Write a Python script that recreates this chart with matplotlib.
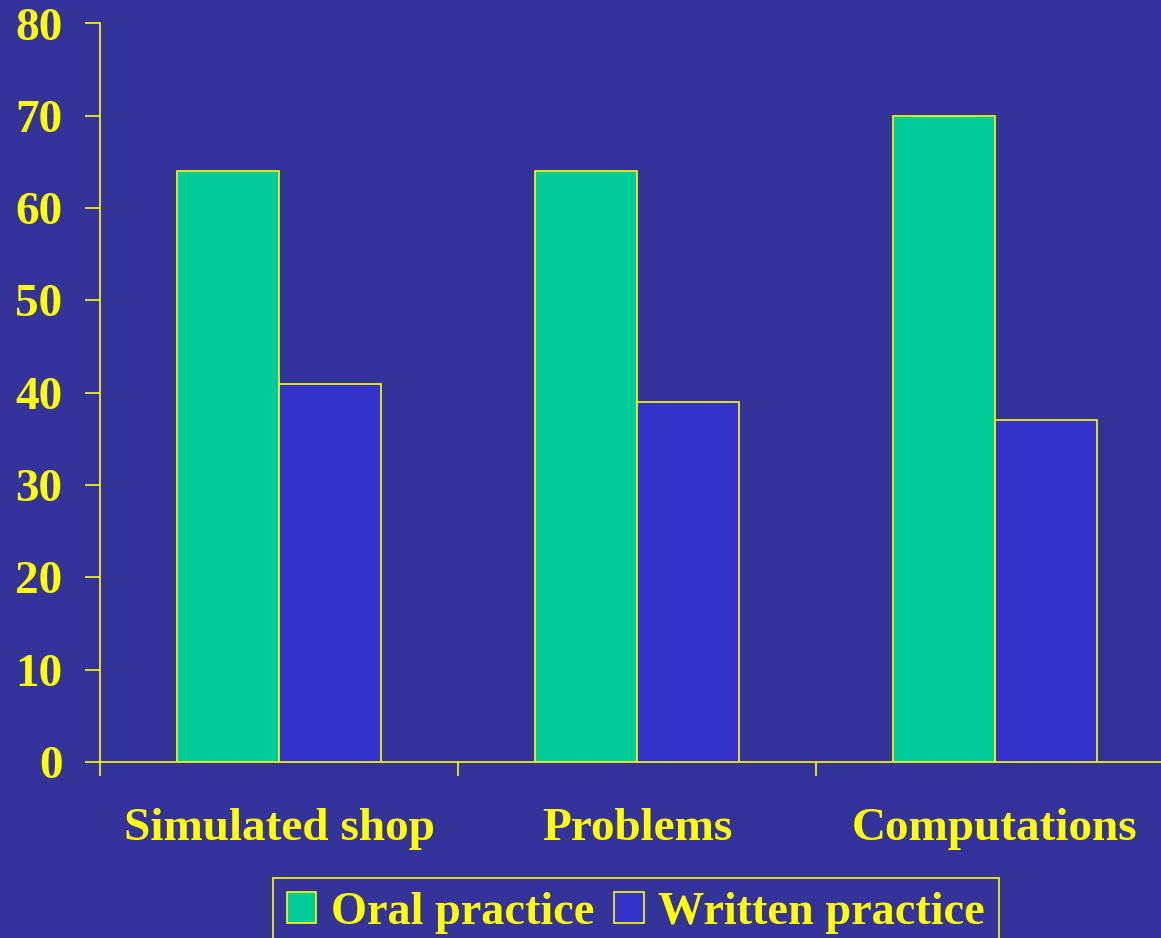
import matplotlib
matplotlib.use("Agg")
import matplotlib.pyplot as plt
import numpy as np

categories = ["Simulated shop", "Problems", "Computations"]
oral_practice = [64, 64, 70]
written_practice = [41, 39, 37]
series_names = ["Oral practice", "Written practice"]
y_ticks = [0, 10, 20, 30, 40, 50, 60, 70, 80]

BG = "#333399"
GREEN = "#00CC99"
BLUE = "#3333CC"
YELLOW = "#FFFF00"

plt.rcParams["font.family"] = ["Liberation Serif", "DejaVu Serif"]
plt.rcParams["font.weight"] = "bold"

FS = 34
W, H = 1161, 938
fig = plt.figure(figsize=(W / 100, H / 100), dpi=100, facecolor=BG)
ax = fig.add_axes([100 / W, 1 - 762 / H, 1074 / W, (762 - 23.5) / H])
ax.set_facecolor(BG)

x = np.arange(len(categories))
bw = 0.285
ax.bar(x - bw / 2, oral_practice, bw, color=GREEN, edgecolor=YELLOW,
       linewidth=1.2, label=series_names[0], zorder=3)
ax.bar(x + bw / 2, written_practice, bw, color=BLUE, edgecolor=YELLOW,
       linewidth=1.2, label=series_names[1], zorder=3)

ax.set_xlim(-0.5, len(categories) - 0.5)
ax.set_ylim(0, 80)

for side in ("top", "right"):
    ax.spines[side].set_visible(False)
for side in ("left", "bottom"):
    ax.spines[side].set_color(YELLOW)
    ax.spines[side].set_linewidth(1.2)

ax.set_yticks(y_ticks)
ax.set_yticklabels([str(v) for v in y_ticks])
ax.tick_params(axis="y", colors=YELLOW, length=11, width=1.2, pad=16,
               labelsize=FS, direction="out")
for lbl in ax.get_yticklabels():
    lbl.set_fontweight("bold")

# group boundaries as major ticks, category names on minor ticks
ax.set_xticks(np.arange(-0.5, len(categories), 1.0))
ax.set_xticklabels([])
ax.tick_params(axis="x", which="major", colors=YELLOW, length=10, width=1.2,
               direction="out")
ax.set_xticks(x, minor=True)
ax.set_xticklabels(categories, minor=True)
ax.tick_params(axis="x", which="minor", length=0, pad=33, labelsize=FS,
               labelcolor=YELLOW)
for lbl in ax.get_xticklabels(minor=True):
    lbl.set_fontweight("bold")

leg = fig.legend(loc="upper left", bbox_to_anchor=(273 / W, 1 - 878 / H),
                 ncol=2, fontsize=33.3, frameon=True, fancybox=False,
                 facecolor=BG, edgecolor=YELLOW, framealpha=1,
                 handlelength=0.64, handleheight=0.64, handletextpad=0.32,
                 columnspacing=0.42, borderpad=0.3, borderaxespad=0)
leg.get_frame().set_linewidth(1.2)
for t in leg.get_texts():
    t.set_color(YELLOW)
    t.set_fontweight("bold")

fig.savefig("out.png", dpi=100, facecolor=BG)
